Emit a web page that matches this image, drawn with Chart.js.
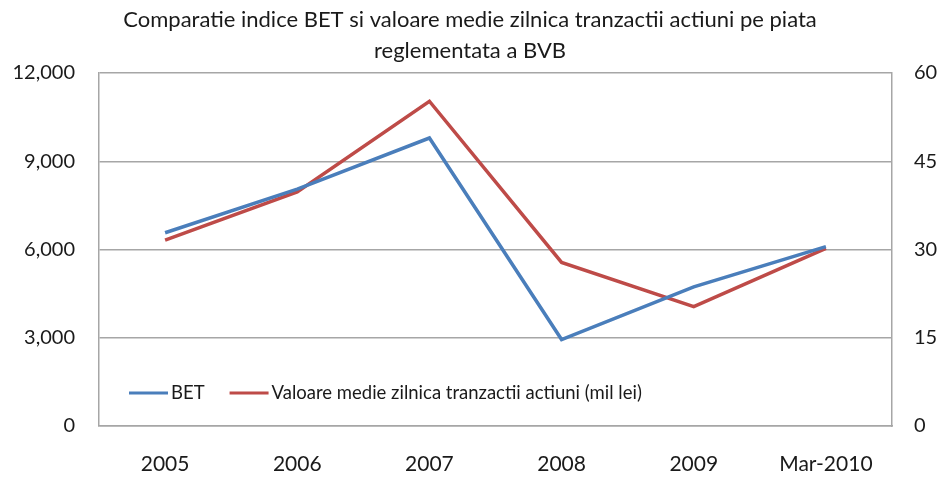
<!DOCTYPE html>
<html>
<head>
<meta charset="utf-8">
<script src="https://cdn.jsdelivr.net/npm/chart.js@4.4.0/dist/chart.umd.min.js"></script>
<style>
  html, body { margin: 0; padding: 0; background: #fff; }
  #wrap { width: 940px; height: 477px; }
</style>
</head>
<body>
<div id="wrap"><canvas id="myChart" width="940" height="477"></canvas></div>
<script>
var categories = ['2005', '2006', '2007', '2008', '2009', 'Mar-2010'];
var betValues = [6570, 8050, 9790, 2940, 4730, 6100];
var tranzValues = [31.6, 39.8, 55.2, 27.8, 20.3, 30.2];
var titleLines = ['Comparatie indice BET si valoare medie zilnica tranzactii actiuni pe piata', 'reglementata a BVB'];

var FONT = 'Lato';
var TEXT = '#1a1a1a';
var GRID = '#a6a6a6';

// legend drawn inside the plot, like the excel original
var insideLegend = {
    id: 'insideLegend',
    afterDatasetsDraw: function (chart) {
        var ctx = chart.ctx;
        var area = chart.chartArea;
        var x = area.left + 30;
        var y = area.top + 320;
        ctx.save();
        ctx.font = '18.5px ' + FONT;
        ctx.textBaseline = 'middle';
        chart.data.datasets.forEach(function (ds) {
            ctx.strokeStyle = ds.borderColor;
            ctx.lineWidth = 3;
            ctx.beginPath();
            ctx.moveTo(x, y);
            ctx.lineTo(x + 39, y);
            ctx.stroke();
            ctx.fillStyle = TEXT;
            ctx.fillText(ds.label, x + 42, y);
            x += 42 + ctx.measureText(ds.label).width + 25;
        });
        ctx.restore();
    }
};

var ctx = document.getElementById('myChart').getContext('2d');
var myChart = new Chart(ctx, {
    type: 'line',
    data: {
        labels: categories,
        datasets: [
            {
                label: 'BET',
                data: betValues,
                yAxisID: 'y',
                borderColor: '#4a7ebb',
                borderWidth: 3.5,
                pointRadius: 0,
                tension: 0
            },
            {
                label: 'Valoare medie zilnica tranzactii actiuni (mil lei)',
                data: tranzValues,
                yAxisID: 'y1',
                borderColor: '#be4b48',
                borderWidth: 3.5,
                pointRadius: 0,
                tension: 0
            }
        ]
    },
    options: {
        responsive: false,
        animation: false,
        layout: { padding: 0 },
        plugins: {
            legend: { display: false },
            tooltip: { enabled: false },
            title: {
                display: true,
                text: titleLines,
                color: TEXT,
                font: { family: FONT, size: 22, weight: 'normal', lineHeight: '31px' },
                padding: { top: 4, bottom: 7 }
            }
        },
        scales: {
            x: {
                offset: true,
                grid: { display: true, drawOnChartArea: false, drawTicks: false, color: GRID },
                border: { display: true, color: GRID, width: 1.5 },
                ticks: { color: TEXT, font: { family: FONT, size: 21 }, padding: 26, maxRotation: 0 },
                afterFit: function (scale) { scale.height = 51; }
            },
            y: {
                position: 'left',
                min: 0,
                max: 12000,
                ticks: {
                    stepSize: 3000,
                    color: TEXT,
                    font: { family: FONT, size: 20 },
                    padding: 24,
                    callback: function (v) { return v.toLocaleString('en-US'); }
                },
                grid: { color: GRID, lineWidth: 1.5, drawTicks: false },
                border: { display: true, color: GRID, width: 1.5 },
                afterFit: function (scale) { scale.width = 99; }
            },
            y1: {
                position: 'right',
                min: 0,
                max: 60,
                ticks: {
                    stepSize: 15,
                    color: TEXT,
                    font: { family: FONT, size: 20 },
                    padding: 22
                },
                grid: { drawOnChartArea: false, drawTicks: false },
                border: { display: true, color: GRID, width: 1.5 },
                afterFit: function (scale) { scale.width = 48; }
            }
        }
    },
    plugins: [insideLegend]
});
</script>
</body>
</html>
